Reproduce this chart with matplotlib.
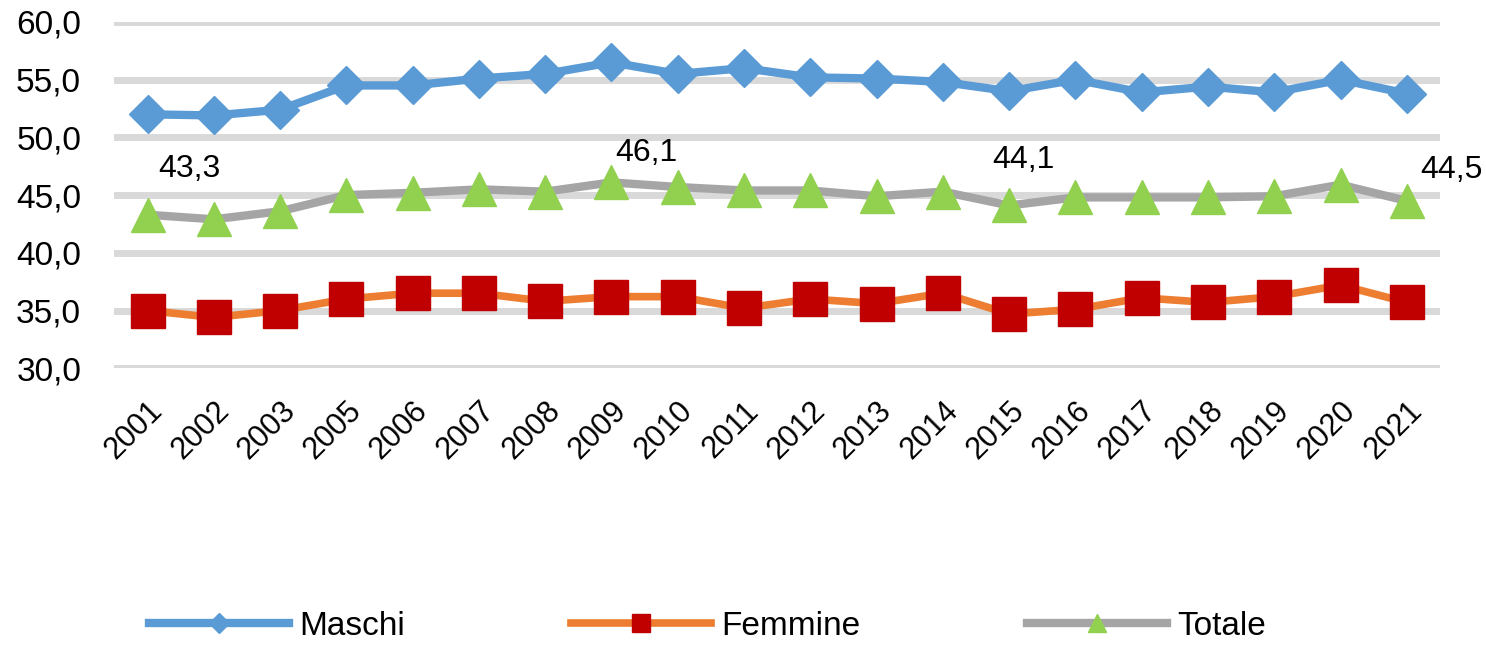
import matplotlib.pyplot as plt

plt.rcParams['font.family'] = ['Liberation Sans', 'DejaVu Sans']

# Dati
anni = ['2001', '2002', '2003', '2005', '2006', '2007', '2008', '2009', '2010', '2011',
        '2012', '2013', '2014', '2015', '2016', '2017', '2018', '2019', '2020', '2021']
maschi = [52.0, 51.9, 52.4, 54.5, 54.5, 55.1, 55.5, 56.5, 55.5, 56.0,
          55.2, 55.1, 54.8, 54.0, 55.0, 53.9, 54.4, 53.9, 55.0, 53.8]
femmine = [35.0, 34.4, 35.0, 36.0, 36.5, 36.5, 35.8, 36.2, 36.2, 35.2,
           36.0, 35.6, 36.5, 34.7, 35.1, 36.1, 35.7, 36.2, 37.2, 35.7]
totale = [43.3, 42.9, 43.6, 45.0, 45.2, 45.5, 45.3, 46.1, 45.7, 45.4,
          45.4, 44.9, 45.3, 44.1, 44.8, 44.8, 44.8, 44.9, 45.9, 44.5]
# etichette mostrate sulla serie Totale: indice, spostamento in punti
etichette = [(0, (30, 33)), (7, (25, 21)), (13, (10, 33)), (19, (32, 22))]
y_ticks = [30, 35, 40, 45, 50, 55, 60]

x = list(range(len(anni)))

fig = plt.figure(figsize=(14.86, 6.46), dpi=100)
ax = fig.add_axes([0.077, 0.43, 0.892, 0.536])

ax.plot(x, maschi, color='#5b9bd5', lw=6, marker='D', ms=19,
        mfc='#5b9bd5', mec='#5b9bd5', label='Maschi', zorder=3)
ax.plot(x, femmine, color='#ed7d31', lw=5.5, marker='s', ms=24,
        mfc='#c00000', mec='#c00000', label='Femmine', zorder=3)
ax.plot(x, totale, color='#a5a5a5', lw=6, marker='^', ms=24,
        mfc='#92d050', mec='#92d050', label='Totale', zorder=3)

for i, off in etichette:
    ax.annotate(f'{totale[i]:.1f}'.replace('.', ','), (x[i], totale[i]),
                xytext=off, textcoords='offset points', ha='center', va='center',
                fontsize=23, zorder=4)

ax.set_xlim(-0.5, 19.5)
ax.set_ylim(30, 60)
ax.set_yticks(y_ticks)
ax.set_yticklabels([f'{v:.1f}'.replace('.', ',') for v in y_ticks], fontsize=24)
ax.set_xticks(x)
ax.set_xticklabels(anni, fontsize=22, rotation=45, ha='right', rotation_mode='anchor')
ax.tick_params(length=0)
ax.tick_params(axis='y', pad=24)
ax.tick_params(axis='x', pad=20)
ax.grid(axis='y', color='#d9d9d9', lw=5, zorder=0)
ax.set_axisbelow(True)
for s in ax.spines.values():
    s.set_visible(False)

fig.legend(loc='center', bbox_to_anchor=(0.476, 0.03), ncol=3, frameon=False,
           fontsize=24, handlelength=4.2, columnspacing=5.0, markerscale=0.55,
           handletextpad=0.3)

fig.savefig('out.png', dpi=100)
